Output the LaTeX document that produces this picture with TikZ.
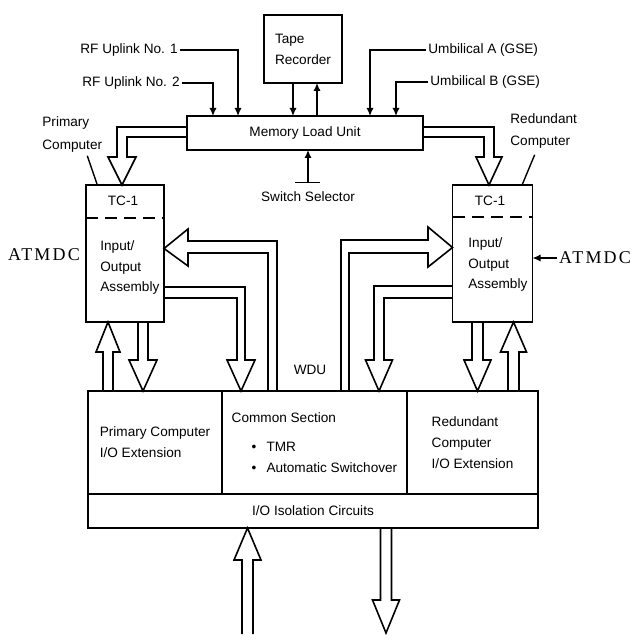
\documentclass[tikz,border=0pt]{standalone}
\usepackage{fontspec}
\setmainfont{Liberation Sans}
\newfontfamily\atmdcfont[LetterSpace=12]{Liberation Serif}
\usetikzlibrary{positioning, calc, arrows.meta}

\begin{document}
\begin{tikzpicture}[x=0.5pt, y=-0.5pt,
    font=\fontsize{6.8}{10.5}\selectfont,
    box/.style={draw, line width=0.8pt, outer sep=0pt, inner sep=0pt},
    fat/.style={line width=0.8pt, line join=miter},
    sig/.style={line width=0.7pt, -{Latex[length=4pt, width=3.6pt]}},
    lbl/.style={inner sep=1pt}]
    \useasboundingbox (0,0) rectangle (640,640);
    \node [box, minimum width=39pt, minimum height=34pt, align=left] (tape) at (303,49) {Tape\\Recorder};
    \node [box, minimum width=118pt, minimum height=17pt] (mlu) at (305,133) {Memory Load Unit};
    \node [lbl, anchor=east] (rf1) at (180,50) {RF Uplink No. 1};
    \node [lbl, anchor=east] (rf2) at (182,83) {RF Uplink No. 2};
    \node [lbl, anchor=west] (umba) at (426,50) {Umbilical A (GSE)};
    \node [lbl, anchor=west] (umbb) at (428,82) {Umbilical B (GSE)};
    \node [lbl] (ss) at (308,197) {Switch Selector};
    \node [lbl, anchor=west, align=left, font=\fontsize{6.8}{11.5}\selectfont] (pc) at (40,134.5) {Primary\\Computer};
    \node [lbl, anchor=west, align=left, font=\fontsize{6.8}{11}\selectfont] (rc) at (508,131) {Redundant\\Computer};
    \node [box, minimum width=39pt, minimum height=68.5pt] (tc1) at (125,253.5) {};
    \node [box, minimum width=40pt, minimum height=68.5pt] (tc2) at (492.5,253.5) {};
    \node [lbl] (tc1t) at (123,201) {TC-1};
    \node [lbl] (tc2t) at (490,201) {TC-1};
    \node [lbl, anchor=west, align=left, font=\fontsize{6.8}{10.25}\selectfont] (io1) at (98,267.5) {Input/\\Output\\Assembly};
    \node [lbl, anchor=west, align=left, font=\fontsize{6.8}{10.25}\selectfont] (io2) at (466,264.5) {Input/\\Output\\Assembly};
    \node [lbl, font=\atmdcfont\fontsize{9}{10}\selectfont] (atmdc1) at (44,255) {ATMDC};
    \node [lbl, font=\atmdcfont\fontsize{9}{10}\selectfont] (atmdc2) at (595,258) {ATMDC};
    \node [box, minimum width=67pt, minimum height=51.5pt, align=left] (pcio) at (155,442.5) {Primary Computer\\I/O Extension};
    \node [box, minimum width=92.5pt, minimum height=51.5pt, align=left, right=0pt of pcio] (common) {Common Section\\[4pt]\hspace*{10pt}\textbullet\hspace{5pt}TMR\\\hspace*{10pt}\textbullet\hspace{5pt}Automatic Switchover};
    \node [box, minimum width=65.5pt, minimum height=51.5pt, align=left, right=0pt of common] (rcio) {Redundant\\Computer\\I/O Extension};
    \node [box, minimum width=225pt, minimum height=17pt, below right=0pt of pcio.south west] (iso) {I/O Isolation Circuits};
    \node [lbl] (wdu) at (310,370) {WDU};
    \draw [line width=0.9pt, dash pattern=on 6pt off 3.5pt] ($(tc1.north west)+(0,33)$) -- ($(tc1.north east)+(0,33)$);
    \draw [line width=0.9pt, dash pattern=on 6pt off 3.5pt] ($(tc2.north west)+(0,32)$) -- ($(tc2.north east)+(0,32)$);
    \draw [sig] (rf1.east) -| ($(mlu.north west)+(51,0)$);
    \draw [sig] (rf2.east) -| ($(mlu.north west)+(26,0)$);
    \draw [sig] (umba.west) -| ($(mlu.north west)+(183,0)$);
    \draw [sig] (umbb.west) -| ($(mlu.north west)+(209,0)$);
    \coordinate (t1) at ($(tape.south)+(-10,0)$);
    \coordinate (t2) at ($(tape.south)+(14,0)$);
    \draw [sig] (t1) -- (t1 |- mlu.north);
    \draw [sig] (t2 |- mlu.north) -- (t2);
    \coordinate (ssbar) at ($(ss.north)+(0,-7)$);
    \draw [sig] (ssbar) -- (ssbar |- mlu.south);
    \draw [line width=0.7pt] ($(ssbar)+(-13,0)$) -- ($(ssbar)+(12,0)$);
    \draw [sig] (atmdc2.west) -- (atmdc2.west -| tc2.east);
    \draw [line width=0.7pt] ($(pc.south)+(15,1)$) -- ($(tc1.north west)+(11,-1)$);
    \draw [line width=0.7pt] ($(rc.south)+(-9,4)$) -- ($(tc2.north east)+(-10,-1)$);
    \draw [fat] ($(mlu.west)+(0,-6)$) -- (117,127) -- (117,157) -- (108,157) -- ($(tc1.north)+(-3,0)$) -- (136,157) -- (127,157) -- (127,137) -- ($(mlu.west)+(0,4)$);
    \draw [fat] ($(mlu.east)+(0,-6)$) -- (494,127) -- (494,157) -- (502,157) -- ($(tc2.north)+(-3.5,0)$) -- (476,157) -- (484,157) -- (484,137) -- ($(mlu.east)+(0,4)$);
    \draw [fat] ($(common.north west)+(55,0)$) -- (277,241) -- (188,241) -- (188,229) -- ($(tc1.east)+(0,-5)$) -- (188,266) -- (188,253) -- (268,253) -- ($(common.north west)+(46,0)$);
    \draw [fat] ($(tc1.east)+(0,33.5)$) -- (245,287) -- (245,360) -- (255,360) -- ($(common.north west)+(19,0)$) -- (227,360) -- (237,360) -- (237,298) -- ($(tc1.east)+(0,44.5)$);
    \draw [fat] ($(pcio.north west)+(15,0)$) -- (103,352) -- (96,352) -- ($(tc1.south west)+(22,0)$) -- (120,352) -- (113,352) -- ($(pcio.north west)+(25,0)$);
    \draw [fat] ($(tc1.south west)+(52,0)$) -- (138,360) -- (129,360) -- ($(pcio.north west)+(55,0)$) -- (157,360) -- (148,360) -- ($(tc1.south west)+(62,0)$);
    \draw [fat] ($(common.north west)+(119,0)$) -- (341,240) -- (428,240) -- (428,227) -- ($(tc2.west)+(0,-6)$) -- (428,267) -- (428,253) -- (349,253) -- ($(common.north west)+(127,0)$);
    \draw [fat] ($(tc2.west)+(0,32.5)$) -- (374,286) -- (374,360) -- (365.5,360) -- ($(common.north west)+(157,0)$) -- (392.5,360) -- (384,360) -- (384,298) -- ($(tc2.west)+(0,44.5)$);
    \draw [fat] ($(tc2.south west)+(19.5,0)$) -- (472,360) -- (464,360) -- ($(rcio.north west)+(70.5,0)$) -- (491,360) -- (483,360) -- ($(tc2.south west)+(30.5,0)$);
    \draw [fat] ($(rcio.north west)+(101,0)$) -- (508,352) -- (500.5,352) -- ($(tc2.south west)+(61,0)$) -- (526.5,352) -- (519,352) -- ($(rcio.north west)+(112,0)$);
    \coordinate (inlet) at (247.5,634);
    \coordinate (outlet) at (386,633);
    \draw [fat] ($(inlet)+(-5.5,0)$) -- (242,560) -- (234,560) -- ($(iso.south west)+(159.5,0)$) -- (261,560) -- (253,560) -- ($(inlet)+(5.5,0)$);
    \draw [fat] ($(iso.south west)+(292.5,0)$) -- (380.5,600) -- (372.5,600) -- (outlet) -- (399.5,600) -- (391.5,600) -- ($(iso.south west)+(303.5,0)$);
\end{tikzpicture}
\end{document}
